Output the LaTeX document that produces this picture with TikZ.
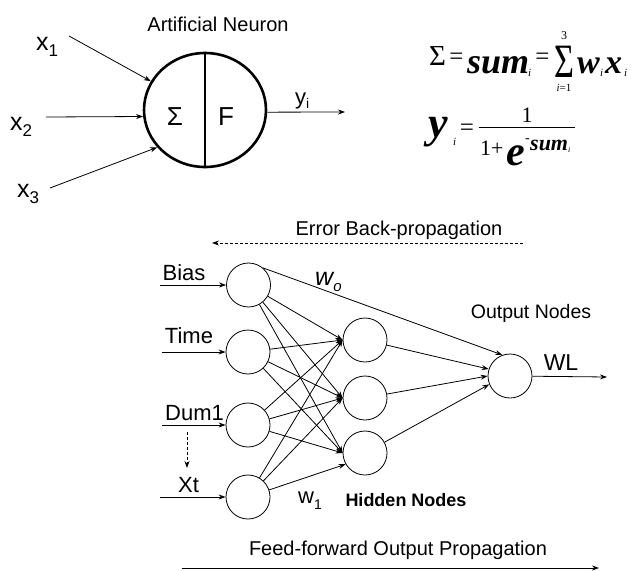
\documentclass[tikz,border=0pt]{standalone}
\usepackage{fontspec}
\usepackage{graphicx}
\setmainfont{Liberation Sans}
\newfontfamily\tnr{Liberation Serif}
\usetikzlibrary{arrows.meta,shapes.geometric}
\newcommand{\fsz}[1]{\fontsize{#1}{#1}\selectfont}
\begin{document}
\begin{tikzpicture}[x=1pt,y=-1pt,
  arr/.style={-{Stealth[length=7pt,width=5pt]}, line width=0.8pt},
  unit/.style={circle, draw, line width=0.8pt, minimum size=44pt, inner sep=0pt},
  lbl/.style={inner sep=0pt, anchor=base},
  lblw/.style={inner sep=0pt, anchor=base west},
  dsh/.style={dash pattern=on 3pt off 2pt},
  bi/.style={font=\tnr\bfseries\itshape\fsz{#1}},
  rm/.style={font=\tnr\fsz{#1}},
  sf/.style={font=\fsz{#1}},
]
\useasboundingbox (0,0) rectangle (634,570);

% ---------- artificial neuron ----------
\node[lbl, sf=20] (title) at (218,31) {Artificial Neuron};
\node[ellipse, draw, line width=2.6pt, minimum width=122pt, minimum height=114pt, inner sep=0pt] (neuron) at (205,110) {};
\draw[line width=2.6pt] (neuron.north) -- (neuron.south);
\node[sf=26, inner sep=0pt] (sigma) at (175,116.5) {Σ};
\node[sf=26, inner sep=0pt] (fn) at (226,116.5) {F};

\node[lblw, sf=25] (lx1) at (36,50) {x\raisebox{-6pt}{\fsz{17}1}};
\node[lblw, sf=25] (lx2) at (10,130) {x\raisebox{-6pt}{\fsz{17}2}};
\node[lblw, sf=25] (lx3) at (17,197) {x\raisebox{-6pt}{\fsz{17}3}};
\coordinate (x1s) at (69,36);
\coordinate (x2s) at (46,117);
\coordinate (x3s) at (50,188);
\draw[arr] (x1s) -- (neuron.152);
\draw[arr] (x2s) -- (neuron.186);
\draw[arr] (x3s) -- (neuron.218);
\coordinate (ye) at (345,112);
\draw[arr] (neuron.-2) -- (ye);
\node[lblw, sf=22] (ly) at (295,104) {y\raisebox{-4pt}{\fsz{14}i}};

% ---------- formulas ----------
\node[lblw, rm=29] (fsig) at (429,65) {Σ};
\node[lbl, rm=25] (feq1) at (456.5,64) {=};
\node[lblw, bi=36] (fsum) at (467,73) {sum};
\node[lblw, font=\tnr\itshape\fsz{11}] (fsumi) at (528,76) {i};
\node[lbl, rm=25] (feq2) at (542.5,64) {=};
\node[lbl, rm=36, text height=32pt, text depth=0pt] (fbig) at (564,77) {\scalebox{0.95}[1.33]{Σ}};
\node[lbl, rm=12, text height=8pt, text depth=0pt] (fthree) at (564,39) {3};
\node[lbl, rm=11, text height=8pt, text depth=0pt] (fidx) at (564,91) {\textit{i}=1};
\node[lblw, bi=34] (fw) at (577,73) {w};
\node[lblw, font=\tnr\itshape\fsz{11}] (fwi) at (600,76) {i};
\node[lblw, bi=34] (fx) at (605,73) {x};
\node[lblw, font=\tnr\itshape\fsz{11}] (fxi) at (624,76) {i};

\node[lblw, bi=44] (gy) at (428,137) {y};
\node[lblw, font=\tnr\itshape\fsz{11}] (gyi) at (453,145) {i};
\node[lbl, rm=25] (geq) at (467,135) {=};
\coordinate (barl) at (479,127.5);
\coordinate (barr) at (575,127.5);
\draw[line width=0.9pt] (barl) -- (barr);
\node[lbl, rm=22] (gnum) at (527,122) {1};
\node[lblw, rm=22] (gden) at (480,155) {1+};
\node[lblw, bi=42] (ge) at (506,165) {e};
\node[lblw, rm=14] (gminus) at (525,142) {-};
\node[lblw, bi=22] (gsum) at (530,150) {sum};
\node[lblw, font=\tnr\itshape\fsz{8}] (gsumi) at (568,152) {i};

% ---------- network ----------
\node[lbl, sf=20] (err) at (399,235) {Error Back-propagation};
\coordinate (errR) at (523,243);
\coordinate (errL) at (212,243);
\draw[arr, dsh] (errR) -- (errL);

\node[unit] (in1) at (248.5,285) {};
\node[unit] (in2) at (248,352) {};
\node[unit] (in3) at (248,425) {};
\node[unit] (in4) at (248,497) {};
\node[unit] (h1) at (365,340) {};
\node[unit] (h2) at (365,398) {};
\node[unit] (h3) at (365,453) {};
\node[unit] (out) at (510,376) {};

\node[lbl, sf=22] (lbias) at (184,280) {Bias};
\node[lbl, sf=22] (ltime) at (189,343) {Time};
\node[lbl, sf=22] (ldum) at (194.5,420) {Dum1};
\node[lbl, sf=22] (lxt) at (188.5,492) {Xt};
\coordinate (s1) at (160,285);
\coordinate (s2) at (162,352);
\coordinate (s3) at (162,425);
\coordinate (s4) at (160,497);
\draw[arr] (s1) -- (in1);
\draw[arr] (s2) -- (in2);
\draw[arr] (s3) -- (in3);
\draw[arr] (s4) -- (in4);
\coordinate (d1) at (187,432);
\coordinate (d2) at (187,468);
\draw[arr, dsh] (d1) -- (d2);

\foreach \i in {1,2,3,4}{
  \draw[arr] (in\i) -- (h1.west);
  \draw[arr] (in\i) -- (h2.west);
}
\draw[arr] (in1) -- (h3.west);
\draw[arr] (in2) -- (h3.west);
\draw[arr] (in3) -- (h3.west);
\draw[arr] (in4) -- (h3.210);
\draw[arr] (in1.50) -- (out.110);
\draw[arr] (h1) -- (out.162);
\draw[arr] (h2) -- (out.180);
\draw[arr] (h3) -- (out.202);

\node[lblw, font=\itshape\fsz{25}] (wo) at (315,285) {w\raisebox{-6pt}{\fsz{15}o}};
\node[lblw, sf=22] (w1) at (298,503) {w\raisebox{-6pt}{\fsz{14}1}};
\node[lbl, font=\bfseries\fsz{18}] (hid) at (406,506) {Hidden Nodes};
\node[lbl, sf=19.5] (outl) at (531,318) {Output Nodes};
\node[lbl, sf=23] (wl) at (561,370) {WL};
\coordinate (wle) at (607,377);
\draw[arr] (out) -- (wle);

\node[lbl, sf=20] (ff) at (398,555) {Feed-forward Output Propagation};
\coordinate (ffl) at (182,568);
\coordinate (ffr) at (599,568);
\draw[arr] (ffl) -- (ffr);
\end{tikzpicture}
\end{document}
